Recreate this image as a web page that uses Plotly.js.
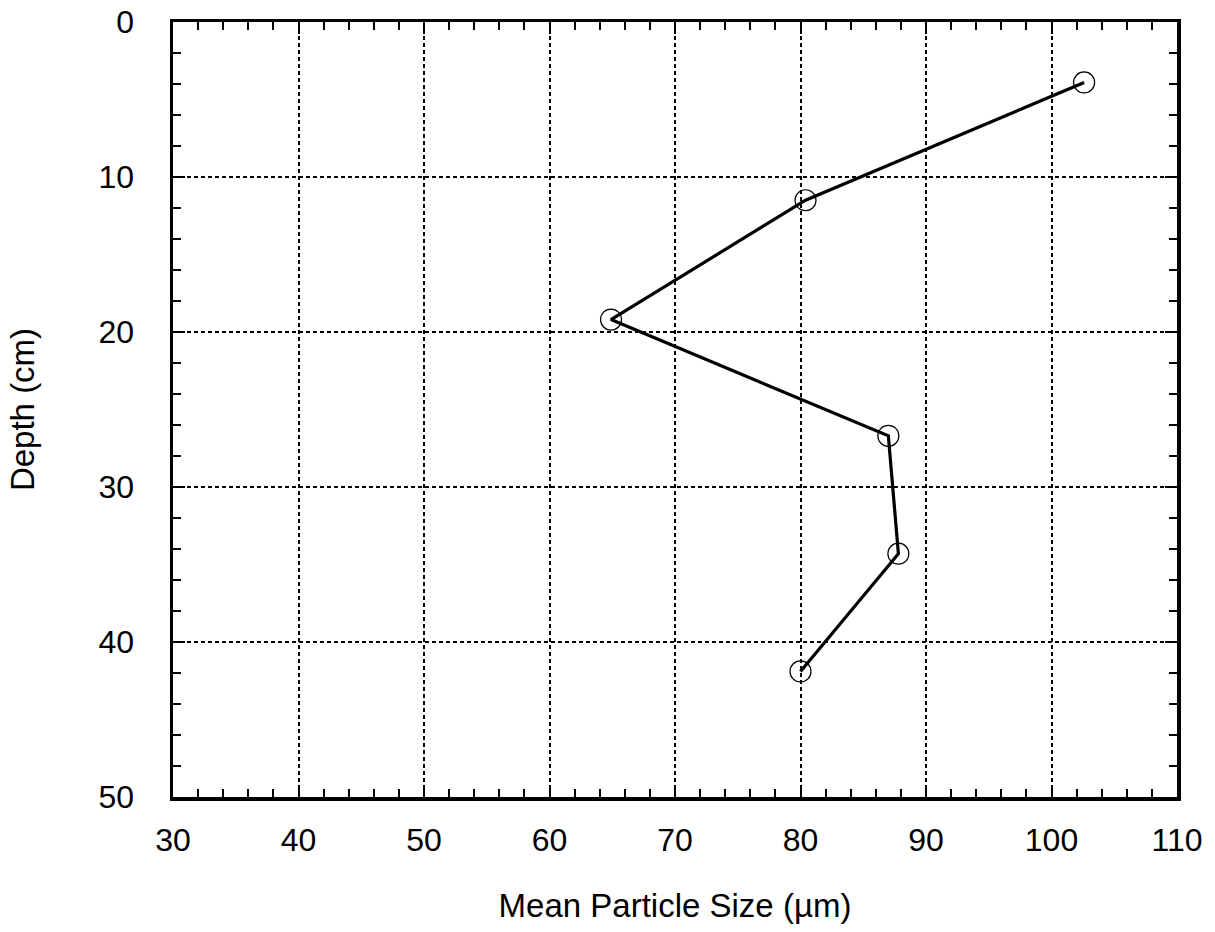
<!DOCTYPE html>
<html>
<head>
<meta charset="utf-8">
<script src="https://cdn.plot.ly/plotly-3.0.1.min.js"></script>
<style>
  html, body { margin: 0; padding: 0; background: #fff; }
  #chart { width: 1215px; height: 932px; }
</style>
</head>
<body>
<div id="chart"></div>
<script>
// Mean particle size measured down the sediment core
const meanSize = [102.6, 80.4, 64.9, 87.0, 87.8, 80.0];   // µm
const depth    = [3.9, 11.5, 19.2, 26.7, 34.3, 41.9];     // cm

const xTicks = [30, 40, 50, 60, 70, 80, 90, 100, 110];
const yTicks = [0, 10, 20, 30, 40, 50];

const family = 'Liberation Sans, Arial, Helvetica, sans-serif';
const tickFont  = { family: family, size: 32, color: '#000' };
const titleFont = { family: family, size: 33, color: '#000' };

const trace = {
  x: meanSize,
  y: depth,
  type: 'scatter',
  mode: 'lines+markers',
  line: { color: '#000', width: 3.2 },
  marker: { symbol: 'circle-open', size: 21, color: '#000', line: { width: 1.2, color: '#000' } },
  hoverinfo: 'x+y'
};

const axisCommon = {
  showline: true,
  linecolor: '#000',
  linewidth: 3.5,
  mirror: 'allticks',
  ticks: 'inside',
  ticklen: 12,
  tickwidth: 2,
  tickcolor: '#000',
  showgrid: true,
  gridcolor: '#000',
  gridwidth: 2,
  griddash: '4px,3px',
  zeroline: false,
  tickfont: tickFont,
  minor: { dtick: 2, ticks: 'inside', ticklen: 8, tickwidth: 2, tickcolor: '#000', showgrid: false }
};

const layout = {
  width: 1215,
  height: 932,
  paper_bgcolor: '#fff',
  plot_bgcolor: '#fff',
  showlegend: false,
  margin: { l: 173, r: 38, t: 22, b: 135 },
  xaxis: Object.assign({}, axisCommon, {
    range: [30, 110],
    tickmode: 'array',
    tickvals: xTicks,
    ticktext: xTicks.map(String),
    ticklabelstandoff: 12,
    title: { text: 'Mean Particle Size (µm)', font: titleFont, standoff: 38 }
  }),
  yaxis: Object.assign({}, axisCommon, {
    range: [50, 0],
    tickmode: 'array',
    tickvals: yTicks,
    ticktext: yTicks.map(String),
    ticklabelstandoff: 29,
    title: { text: 'Depth (cm)', font: titleFont, standoff: 55 }
  })
};

Plotly.newPlot('chart', [trace], layout, { displayModeBar: false, staticPlot: true });
</script>
</body>
</html>
